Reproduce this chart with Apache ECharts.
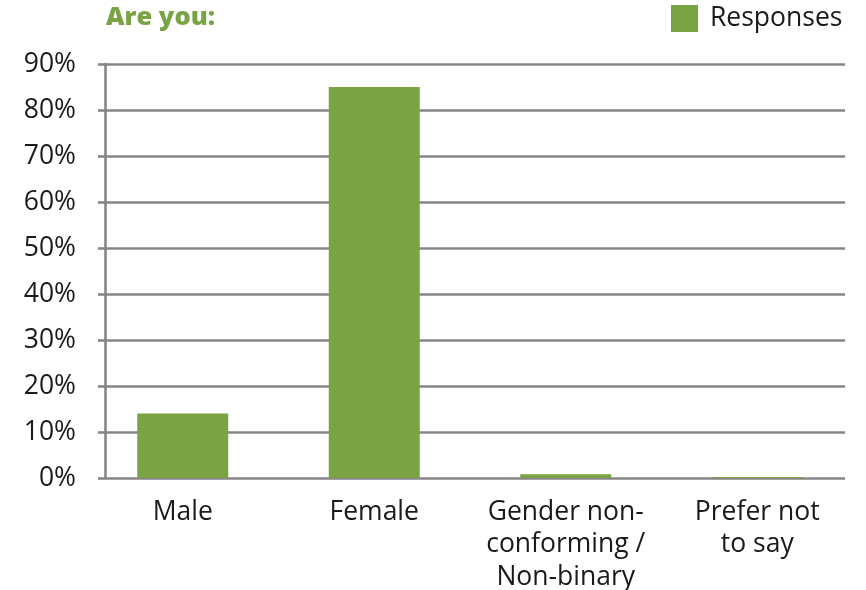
<!DOCTYPE html>
<html>
<head>
<meta charset="utf-8">
<title>Are you:</title>
<script src="https://cdn.jsdelivr.net/npm/echarts@6/dist/echarts.min.js"></script>
<style>
  html, body { margin: 0; padding: 0; background: #ffffff; }
  #chart { width: 866px; height: 590px; }
</style>
</head>
<body>
<div id="chart"></div>
<script>
// Survey question: gender breakdown of responses (percent)
const categories = ['Male', 'Female', 'Gender non-\nconforming /\nNon-binary', 'Prefer not\nto say'];
const responses = [14.0, 85.0, 0.8, 0.2];
const seriesName = 'Responses';
const titleText = 'Are you:';
const yMin = 0, yMax = 90, yStep = 10;

const GREEN = '#7aa444';
const GRID_GREY = '#878585';
const FONT = '"Open Sans", "Noto Sans", sans-serif';
const LABEL_SIZE = 26.5;

const chart = echarts.init(document.getElementById('chart'), null, { renderer: 'canvas' });

chart.setOption({
  animation: false,
  backgroundColor: '#ffffff',
  title: {
    text: titleText,
    left: 106,
    top: 5,
    padding: 0,
    textStyle: { color: GREEN, fontFamily: FONT, fontWeight: 900, fontSize: 25.5 }
  },
  legend: {
    data: [seriesName],
    left: 671,
    top: 5,
    padding: 0,
    itemWidth: 27,
    itemHeight: 27,
    icon: 'rect',
    textStyle: { fontFamily: FONT, fontSize: LABEL_SIZE, color: '#1a1a1a', padding: [0, 0, 0, 7] }
  },
  grid: [
    // bars and category labels
    { left: 87, width: 766, top: 64, height: 414, outerBoundsMode: 'none', containLabel: false },
    // value axis, ticks and gridlines
    { left: 105, width: 740, top: 64, height: 414, outerBoundsMode: 'none', containLabel: false }
  ],
  xAxis: [
    {
      type: 'category',
      gridIndex: 0,
      data: categories,
      axisLine: { show: false },
      axisTick: { show: false },
      axisLabel: {
        margin: 18,
        interval: 0,
        fontFamily: FONT,
        fontSize: LABEL_SIZE,
        lineHeight: 32.5,
        color: '#1a1a1a',
        align: 'center'
      }
    },
    {
      type: 'category',
      gridIndex: 1,
      data: categories,
      show: false
    }
  ],
  yAxis: [
    {
      type: 'value',
      gridIndex: 0,
      min: yMin, max: yMax, interval: yStep,
      show: false,
      splitLine: { show: false }
    },
    {
      type: 'value',
      gridIndex: 1,
      min: yMin, max: yMax, interval: yStep,
      axisLine: { show: true, lineStyle: { color: GRID_GREY, width: 2.6 } },
      axisTick: { show: true, length: 7, lineStyle: { color: GRID_GREY, width: 2.6 } },
      splitLine: { show: true, lineStyle: { color: GRID_GREY, width: 2.6 } },
      axisLabel: {
        margin: 29,
        fontFamily: FONT,
        fontSize: LABEL_SIZE,
        color: '#1a1a1a',
        formatter: v => v + '%'
      }
    }
  ],
  series: [
    {
      name: seriesName,
      type: 'bar',
      xAxisIndex: 0,
      yAxisIndex: 0,
      data: responses,
      barWidth: 91,
      itemStyle: { color: GREEN },
      z: 3
    }
  ]
});
</script>
</body>
</html>
